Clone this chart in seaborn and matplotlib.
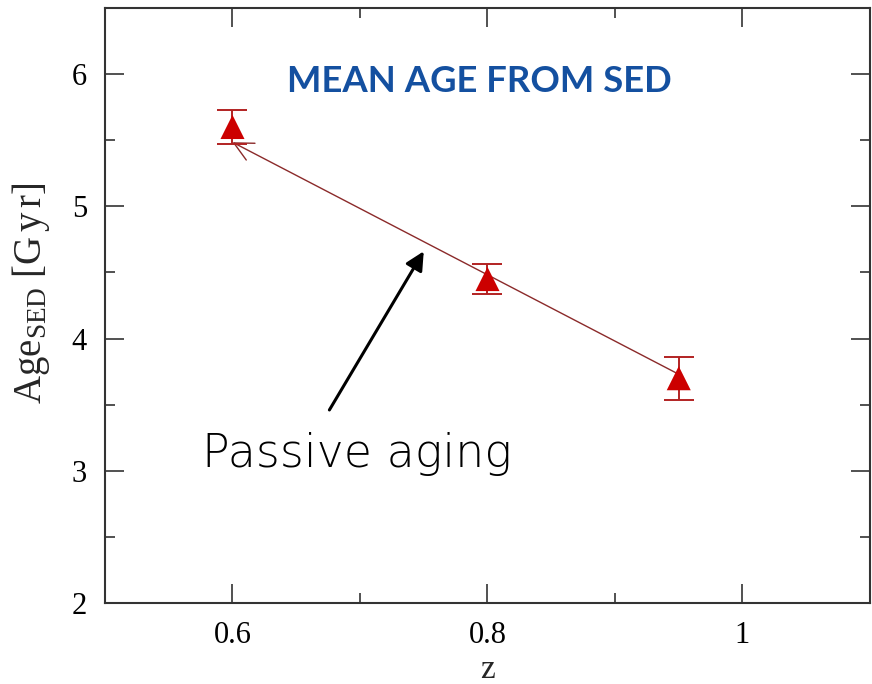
import numpy as np
import pandas as pd
import matplotlib
matplotlib.use("Agg")
import matplotlib.pyplot as plt
from matplotlib.ticker import MultipleLocator, FuncFormatter
import seaborn as sns

# values
redshift = [0.6, 0.8, 0.95]
age_sed = [5.60, 4.45, 3.70]
age_err = [0.13, 0.115, 0.163]

trend_start = (0.95, 3.73)
trend_end = (0.6, 5.485)
note_tail = (0.676, 3.46)
note_head = (0.750, 4.66)

title_text = "MEAN AGE FROM SED"
note_text = "Passive aging"

sns.set_style("ticks")
plt.rcParams["font.family"] = ["Liberation Serif", "DejaVu Serif"]
plt.rcParams["mathtext.fontset"] = "custom"
plt.rcParams["mathtext.rm"] = "Liberation Serif"
plt.rcParams["mathtext.it"] = "Liberation Serif:italic"

df = pd.DataFrame({"z": redshift, "age": age_sed, "err": age_err})

fig = plt.figure(figsize=(8.72, 6.84), dpi=100)
ax = fig.add_axes([0.1204, 0.1184, 0.9977 - 0.1204, 0.9883 - 0.1184])

# trend line with open arrow head
ax.annotate("", xy=trend_end, xytext=trend_start,
            arrowprops=dict(arrowstyle="->", color="#8b2a2a", lw=1.0,
                            mutation_scale=34, shrinkA=0, shrinkB=0))

ax.errorbar(df["z"], df["age"], yerr=df["err"], fmt="none",
            ecolor="#b22222", elinewidth=1.4, capsize=10.5, capthick=1.4, zorder=3)
sns.scatterplot(data=df, x="z", y="age", marker="^", s=300, color="#cc0000",
                edgecolor="none", ax=ax, zorder=4, legend=False)

ax.annotate("", xy=note_head, xytext=note_tail,
            arrowprops=dict(arrowstyle="-|>", color="black", lw=2.2,
                            mutation_scale=28, shrinkA=0, shrinkB=0))

ax.text(0.576, 3.03, note_text, fontsize=33, family=["DejaVu Sans"], fontweight="light",
        ha="left", va="baseline", color="black")
ax.text(0.643, 5.864, title_text, fontsize=26.3, fontweight="bold",
        family=["Lato", "DejaVu Sans"], ha="left", va="baseline", color="#1450a0")

ax.set_xlim(0.5, 1.1)
ax.set_ylim(2, 6.5)
ax.xaxis.set_major_locator(MultipleLocator(0.2))
ax.xaxis.set_minor_locator(MultipleLocator(0.1))
ax.yaxis.set_major_locator(MultipleLocator(1))
ax.yaxis.set_minor_locator(MultipleLocator(0.5))
ax.xaxis.set_major_formatter(FuncFormatter(lambda v, p: f"{v:g}"))
ax.yaxis.set_major_formatter(FuncFormatter(lambda v, p: f"{v:g}"))

ax.tick_params(which="both", direction="in", top=True, right=True, colors="#333333",
               labelcolor="black", labelsize=22)
ax.tick_params(which="major", length=14, width=1.2)
ax.tick_params(axis="x", which="major", pad=13)
ax.tick_params(axis="y", which="major", pad=13)
ax.tick_params(which="minor", length=7, width=1.2)
for sp in ax.spines.values():
    sp.set_linewidth(1.5)
    sp.set_color("#333333")

ax.set_xlabel("z", fontsize=24)
ax.set_ylabel(r"$\mathrm{Age}_{\mathrm{SED}}\ [\mathrm{G\,y\,r}]$", fontsize=28)
ax.xaxis.set_label_coords(0.5, -0.087)
ax.yaxis.set_label_coords(-0.069, 0.52)

fig.savefig("out.png", dpi=100)
